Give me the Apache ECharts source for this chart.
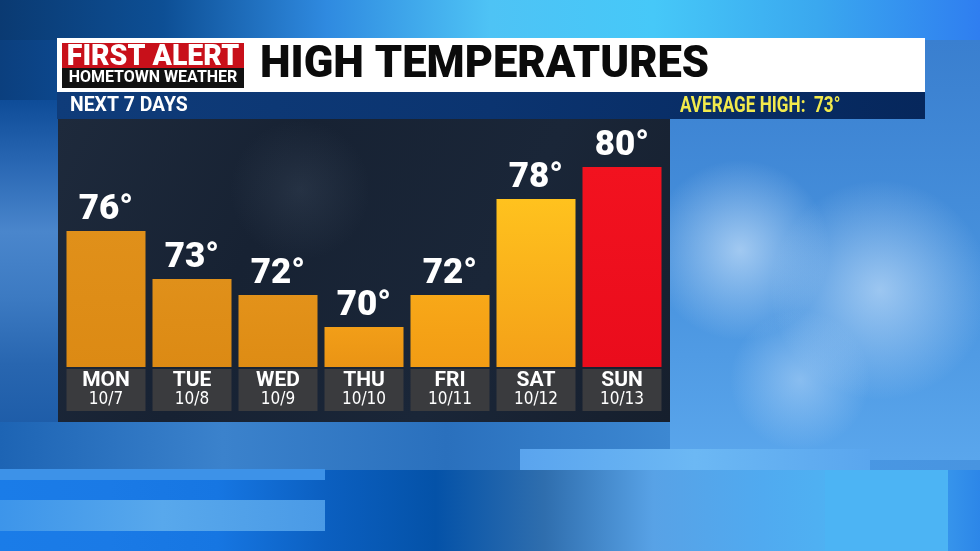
<!DOCTYPE html>
<html>
<head>
<meta charset="utf-8">
<script src="https://cdn.jsdelivr.net/npm/echarts@6/dist/echarts.min.js"></script>
<style>
html,body{margin:0;padding:0;background:#1560b8;}
#c{width:980px;height:551px;}
</style>
</head>
<body>
<div id="c"></div>
<script>
const days = ['MON','TUE','WED','THU','FRI','SAT','SUN'];
const dates = ['10/7','10/8','10/9','10/10','10/11','10/12','10/13'];
const highs = [76, 73, 72, 70, 72, 78, 80];
const title = 'HIGH TEMPERATURES';
const subtitle = 'NEXT 7 DAYS';
const averageHigh = 73;

const barColors = [
  ['#e0901a','#dc8a14'],
  ['#e0901a','#dc8a14'],
  ['#e3921a','#de8c14'],
  ['#f29e18','#ea9414'],
  ['#f8a818','#f29c14'],
  ['#ffc21e','#f4a018'],
  ['#f2121f','#ea0c1c']
];

function lg(x,y,x2,y2,stops){return new echarts.graphic.LinearGradient(x,y,x2,y2,stops.map((c,i)=>({offset:i/(stops.length-1),color:c})));}
function rg(c1,c2){return new echarts.graphic.RadialGradient(0.5,0.5,0.5,[{offset:0,color:c1},{offset:1,color:c2}]);}

const condensed = '"Liberation Sans Narrow", "DejaVu Sans Condensed", Roboto, sans-serif';

const chart = echarts.init(document.getElementById('c'));
const graphics = [
  // sky background
  {type:'rect',z:-10,shape:{x:0,y:0,width:980,height:551},style:{fill:lg(0,0,1,0,['#0b3f7e','#0f5fb8','#3a8ee0','#4a9ae6','#4894e0'])}},
  {type:'rect',z:-10,shape:{x:0,y:0,width:980,height:40},style:{fill:lg(0,0,1,0,['#0a3a72','#0d4f95','#2f8ae0','#4ec3f5','#46c8f8','#3aa8ef','#2f7ef0'])}},
  {type:'rect',z:-10,shape:{x:0,y:100,width:58,height:330},style:{fill:lg(0,0,0,1,['#0e4c98','#2a68b4','#4a86cc','#3c7ac2','#2866b0','#1d5ca8'])}},
  {type:'rect',z:-10,shape:{x:670,y:40,width:310,height:420},style:{fill:lg(0,0,0,1,['#3a7fcf','#4690dc','#5aa6ec'])}},
  // clouds right
  {type:'ellipse',z:-9,shape:{cx:740,cy:250,rx:90,ry:150},style:{fill:rg('rgba(200,225,250,0.7)','rgba(200,225,250,0)')}},
  {type:'ellipse',z:-9,shape:{cx:880,cy:290,rx:110,ry:110},style:{fill:rg('rgba(200,225,250,0.65)','rgba(200,225,250,0)')}},
  {type:'ellipse',z:-9,shape:{cx:800,cy:380,rx:150,ry:70},style:{fill:rg('rgba(190,220,250,0.5)','rgba(190,220,250,0)')}},
  // lower area under panel
  {type:'rect',z:-9,shape:{x:0,y:422,width:670,height:48},style:{fill:lg(0,0,1,0,['#1d64b4','#3b82cc','#2a70bd','#3d88d2'])}},
  {type:'rect',z:-8,shape:{x:520,y:449,width:350,height:21},style:{fill:lg(0,0,1,0,['#5aa4ee','#6cb8f4','#5aa6ee'])}},
  // bottom bands
  {type:'rect',z:-8,shape:{x:0,y:470,width:980,height:81},style:{fill:lg(0,0,1,0,['#1a7ce8','#1a7ae6','#1676e2','#0b5fc0','#0452a8','#2f6eae','#58a2e6','#50aaf0','#4eb6f4','#2c86e8'])}},
  {type:'rect',z:-7,shape:{x:0,y:469,width:325,height:11},style:{fill:'#3d92e8'}},
  {type:'rect',z:-7,shape:{x:0,y:500,width:325,height:31},style:{fill:lg(0,0,1,0,['#3d95ea','#58a8ec','#4a9ae6'])}},
  {type:'rect',z:-7,shape:{x:825,y:470,width:123,height:81},style:{fill:'#4cb4f4'}},
  // header white bar
  {type:'rect',z:1,shape:{x:57,y:38,width:868,height:54},style:{fill:'#ffffff'}},
  {type:'rect',z:2,shape:{x:62,y:43,width:182,height:25},style:{fill:'#c8101a'}},
  {type:'rect',z:2,shape:{x:62,y:68,width:182,height:20},style:{fill:'#111111'}},
  {type:'text',z:3,x:153,y:57,scaleX:0.95,style:{x:0,y:0,text:'FIRST ALERT',fill:'#ffffff',font:'900 30px Roboto',textAlign:'center',textVerticalAlign:'middle'}},
  {type:'text',z:3,x:153,y:78,style:{x:0,y:0,text:'HOMETOWN WEATHER',fill:'#ffffff',font:'bold 16px Roboto',textAlign:'center',textVerticalAlign:'middle'}},
  {type:'text',z:3,x:260,y:66,style:{x:0,y:0,text:title,fill:'#0b0b0b',font:'900 43.5px Roboto',textAlign:'left',textVerticalAlign:'middle'}},
  // nav bar
  {type:'rect',z:1,shape:{x:57,y:92,width:868,height:27},style:{fill:lg(0,0,1,0,['#0f3c7a','#0b3470','#06275c'])}},
  {type:'text',z:3,x:70,y:106,scaleX:0.97,style:{x:0,y:0,text:subtitle,fill:'#ffffff',font:'bold 20px Roboto',textAlign:'left',textVerticalAlign:'middle'}},
  {type:'text',z:3,x:680,y:106,scaleX:0.78,style:{x:0,y:0,text:'AVERAGE HIGH:  ' + averageHigh + '°',fill:'#f2ea4c',font:'bold 22px Roboto',textAlign:'left',textVerticalAlign:'middle'}},
  // chart panel
  {type:'rect',z:0,shape:{x:58,y:119,width:612,height:303},style:{fill:lg(0,0,1,1,['#1e2a3c','#172233','#1a2638','#161f2d'])}},
  {type:'ellipse',z:0,shape:{cx:300,cy:190,rx:220,ry:70},style:{fill:rg('rgba(70,85,105,0.3)','rgba(70,85,105,0)')}}
];

const option = {
  animation:false,
  graphic: graphics,
  grid:{left:63,top:119,width:602,height:248,containLabel:false},
  xAxis:{
    type:'category',
    data: days,
    axisLine:{show:false},axisTick:{show:false},
    axisLabel:{
      interval:0,
      margin:2,
      formatter:function(v,i){return '{d|'+v+'}\n{t|'+dates[i]+'}';},
      backgroundColor:'#3a3b3e',
      width:79,height:42,
      padding:0,
      align:'center',
      verticalAlign:'top',
      rich:{
        d:{color:'#ffffff',fontFamily:'Roboto',fontWeight:'bold',fontSize:21,lineHeight:22,align:'center',width:79,padding:[1,0,0,0]},
        t:{color:'#ffffff',fontFamily:condensed,fontSize:17,lineHeight:18,align:'center',width:79}
      }
    }
  },
  yAxis:{type:'value',min:67.5,max:83,show:false,splitLine:{show:false}},
  series:[{
    type:'bar',
    barWidth:79,
    data: highs.map((v,i)=>({value:v,itemStyle:{color:lg(0,0,0,1,barColors[i])}})),
    label:{
      show:true,position:'top',distance:3,
      formatter:'{c}°',
      color:'#ffffff',fontFamily:'Roboto',fontWeight:900,fontSize:35
    }
  }]
};
chart.setOption(option);
</script>
</body>
</html>
